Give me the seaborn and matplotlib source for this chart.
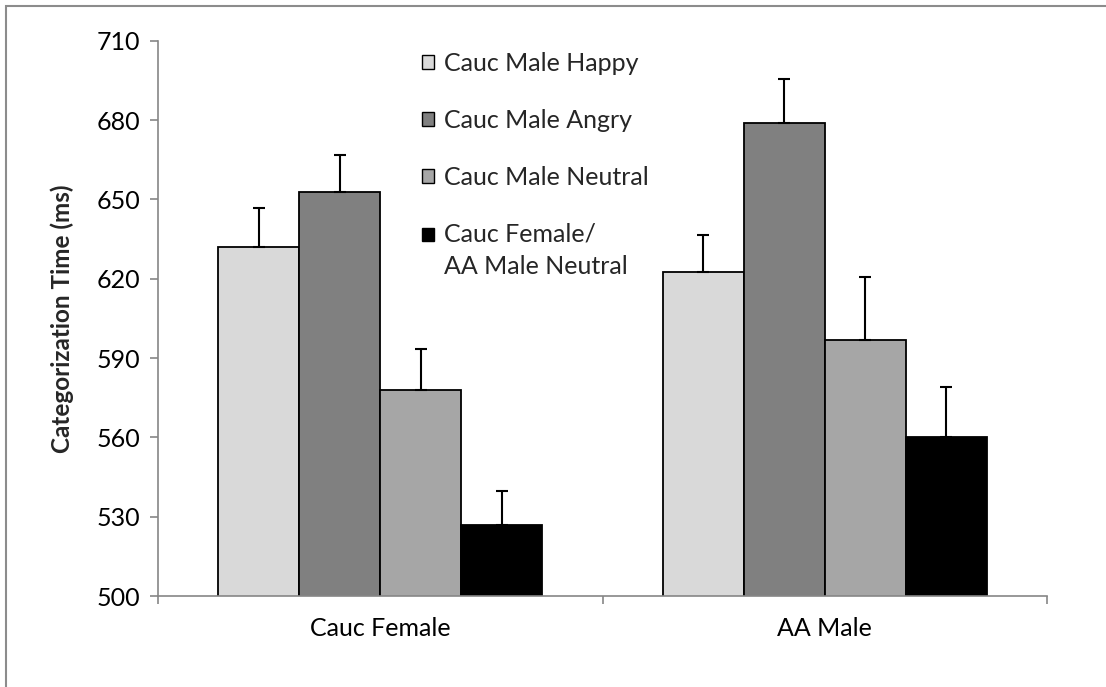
import numpy as np
import pandas as pd
import matplotlib
matplotlib.use("Agg")
import matplotlib.pyplot as plt
import seaborn as sns
from matplotlib.patches import Patch, Rectangle
from matplotlib.legend_handler import HandlerPatch
from matplotlib.ticker import FixedLocator

# Target faces on the x axis, prime conditions as bar series
target_groups = ["Cauc Female", "AA Male"]
prime_labels = ["Cauc Male Happy", "Cauc Male Angry", "Cauc Male Neutral",
                "Cauc Female/\nAA Male Neutral"]

# Mean categorization time (ms) per prime, one value per target group
happy_rt = [631.9, 622.5]
angry_rt = [652.8, 679.0]
neutral_rt = [577.8, 596.9]
control_rt = [527.0, 560.3]

# Standard errors (upper whiskers only)
happy_se = [14.7, 14.1]
angry_se = [14.1, 16.4]
neutral_se = [15.7, 23.7]
control_se = [12.7, 18.8]

bar_colors = ["#D9D9D9", "#808080", "#A6A6A6", "#000000"]
y_ticks = [500, 530, 560, 590, 620, 650, 680, 710]

means = [happy_rt, angry_rt, neutral_rt, control_rt]
errors = [happy_se, angry_se, neutral_se, control_se]

rows = []
for prime, vals, errs in zip(prime_labels, means, errors):
    for grp, v, e in zip(target_groups, vals, errs):
        rows.append({"target": grp, "prime": prime, "rt": v, "se": e})
df = pd.DataFrame(rows)

sns.set_theme(style="white")
plt.rcParams["font.family"] = ["Lato", "DejaVu Sans"]
FS = 18

fig = plt.figure(figsize=(11.06, 6.87), dpi=100)
ax = fig.add_axes([158 / 1106, 1 - 596 / 687, (1047 - 158) / 1106, (596 - 40.7) / 687])

sns.barplot(data=df, x="target", y="rt", hue="prime", order=target_groups,
            hue_order=prime_labels, palette=bar_colors, saturation=1,
            width=0.729, dodge=True, errorbar=None, edgecolor="black",
            linewidth=1.3, legend=False, ax=ax)

# One-sided error bars on top of each bar
for container, prime in zip(ax.containers, prime_labels):
    sub = df[df["prime"] == prime].set_index("target").loc[target_groups]
    for bar, se in zip(container, sub["se"]):
        xc = bar.get_x() + bar.get_width() / 2
        top = bar.get_height()
        ax.errorbar([xc], [top], yerr=[[0], [se]], fmt="none", ecolor="black",
                    elinewidth=1.5, capsize=4, capthick=1.5, zorder=3)

axis_gray = "#868686"
ax.set_ylim(500, 710)
ax.set_xlim(-0.5, 1.5)
ax.set_yticks(y_ticks)
ax.set_yticklabels([str(t) for t in y_ticks])
ax.xaxis.set_minor_locator(FixedLocator([-0.5, 0.5, 1.5]))

for side in ["top", "right"]:
    ax.spines[side].set_visible(False)
for side in ["left", "bottom"]:
    ax.spines[side].set_color(axis_gray)
    ax.spines[side].set_linewidth(1.2)

ax.tick_params(axis="y", which="major", direction="out", length=5.8, width=1.2,
               color=axis_gray, pad=7, labelsize=FS, labelcolor="black", left=True)
ax.tick_params(axis="x", which="major", length=0, pad=15, labelsize=FS,
               labelcolor="black", bottom=True)
ax.tick_params(axis="x", which="minor", direction="out", length=5.8, width=1.2,
               color=axis_gray, bottom=True)

ax.set_xlabel("")
ax.set_ylabel("Categorization Time (ms)", fontsize=17.5, fontweight="bold")
ax.yaxis.set_label_coords(-0.095, 0.5)

# Legend: plain squares, no frame; the two-line entry keeps its square on the first line
handles = [Patch(facecolor=c, edgecolor="black", linewidth=1.0) for c in bar_colors]


class TopLineHandler(HandlerPatch):
    def __init__(self, shift, **kw):
        super().__init__(**kw)
        self.shift = shift

    def create_artists(self, legend, orig_handle, xdescent, ydescent, width,
                       height, fontsize, trans):
        p = Rectangle((-xdescent, -ydescent + self.shift * fontsize), width, height)
        self.update_prop(p, orig_handle, legend)
        p.set_transform(trans)
        return [p]


leg = ax.legend(handles, prime_labels, loc="upper left",
                bbox_to_anchor=(422 / 1106, 1 - 52 / 687),
                bbox_transform=fig.transFigure, frameon=False, fontsize=FS,
                handlelength=0.46, handleheight=0.46, handletextpad=0.4,
                labelspacing=1.36, borderpad=0, borderaxespad=0,
                handler_map={handles[3]: TopLineHandler(0.66)})
for t in leg.get_texts():
    t.set_linespacing(1.47)

# Thin outer frame of the chart area
fig.patches.append(Rectangle((5.5 / 1106, -0.1), 1.2, 1.1 - 6 / 687,
                             transform=fig.transFigure, fill=False,
                             edgecolor="#8C8C8C", linewidth=1.5, zorder=10))

fig.savefig("out.png", dpi=100, facecolor="white")
